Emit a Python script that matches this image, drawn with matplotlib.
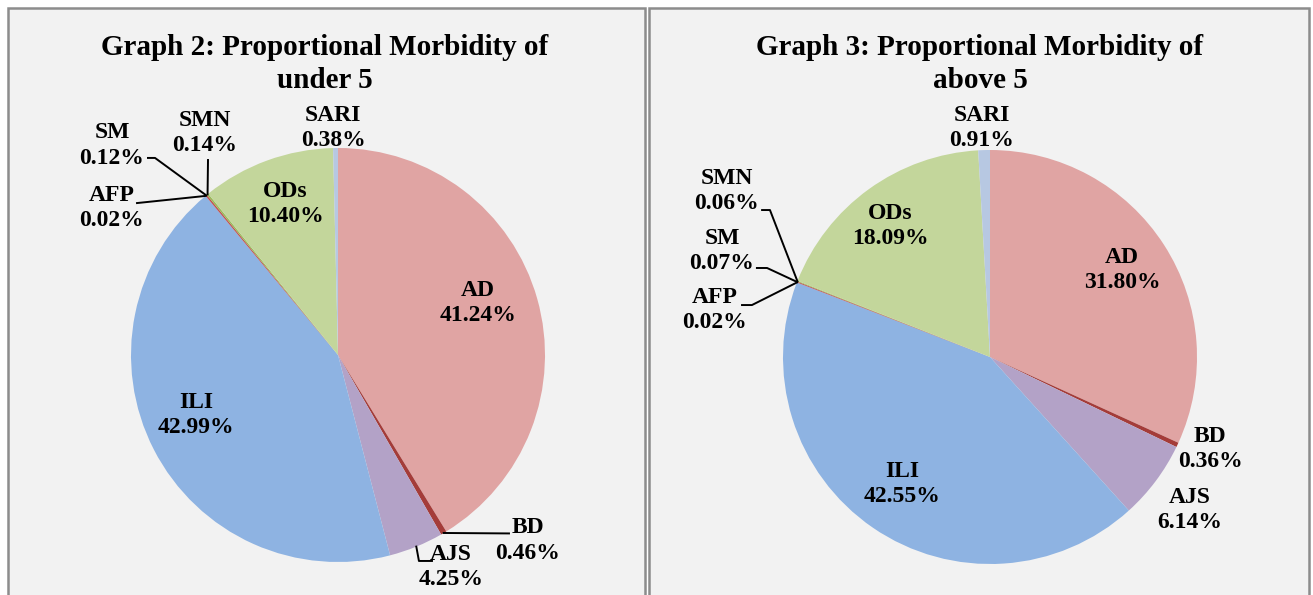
import matplotlib.pyplot as plt
from matplotlib.patches import Rectangle
import numpy as np

# data
diseases = ['AD', 'BD', 'AJS', 'ILI', 'AFP', 'SM', 'SMN', 'ODs', 'SARI']
under5 = [41.24, 0.46, 4.25, 42.99, 0.02, 0.12, 0.14, 10.40, 0.38]
above5 = [31.80, 0.36, 6.14, 42.55, 0.02, 0.07, 0.06, 18.09, 0.91]
titles = ['Graph 2: Proportional Morbidity of\nunder 5',
          'Graph 3: Proportional Morbidity of\nabove 5']

colors = ['#e0a4a3', '#a43c39', '#b3a2c7', '#8eb3e2', '#7f63a1',
          '#c0504d', '#9bbb59', '#c3d69b', '#b7c8e2']

# label placement (in pie radii, relative to centre)
lab_pos_1 = {'AD': (0.676, 0.251), 'BD': (0.918, -0.895), 'AJS': (0.546, -1.024),
             'ILI': (-0.686, -0.290), 'AFP': (-1.092, 0.710), 'SM': (-1.092, 1.014),
             'SMN': (-0.643, 1.072), 'ODs': (-0.256, 0.729), 'SARI': (-0.024, 1.097)}
lab_pos_2 = {'AD': (0.638, 0.420), 'BD': (1.063, -0.444), 'AJS': (0.966, -0.739),
             'ILI': (-0.425, -0.614), 'AFP': (-1.329, 0.227), 'SM': (-1.295, 0.512),
             'SMN': (-1.271, 0.802), 'ODs': (-0.483, 0.633), 'SARI': (-0.039, 1.106)}
# leader lines: points from the label towards the slice edge
leaders_1 = {'SMN': [(-0.628, 0.942)],
             'SM': [(-0.918, 0.952), (-0.884, 0.952)],
             'AFP': [(-0.971, 0.734)],
             'BD': [(0.826, -0.862)],
             'AJS': [(0.454, -0.995), (0.391, -0.995)]}
leaders_2 = {'SMN': [(-1.101, 0.710), (-1.063, 0.710)],
             'SM': [(-1.126, 0.430), (-1.077, 0.430)],
             'AFP': [(-1.198, 0.251), (-1.150, 0.251)]}

W, H = 1313, 595
fig = plt.figure(figsize=(W / 100, H / 100), dpi=100)
fig.patch.set_facecolor('white')
ax = fig.add_axes([0, 0, 1, 1])

font = dict(family='Liberation Serif', weight='bold')

panels = [(8, 645), (649, 1309)]
centres = [(338, H - 355), (990, H - 357)]
R = 207
title_x = [325, 980]

for i, vals in enumerate([under5, above5]):
    x0, x1 = panels[i]
    ax.add_patch(Rectangle((x0, -10), x1 - x0, H + 2, facecolor='#f2f2f2',
                           edgecolor='#8c8c8c', linewidth=1.8, zorder=0))
    ax.text(title_x[i], H - 64, titles[i], ha='center', va='center',
            fontsize=21, linespacing=1.32, **font)
    cx, cy = centres[i]
    wedges, _ = ax.pie(vals, colors=colors, startangle=90, counterclock=False,
                       center=(cx, cy), radius=R, frame=True,
                       wedgeprops=dict(linewidth=0))
    pos = [lab_pos_1, lab_pos_2][i]
    lead = [leaders_1, leaders_2][i]
    for name, v, w in zip(diseases, vals, wedges):
        lx, ly = pos[name]
        ax.text(cx + lx * R, cy + ly * R, f'{name}\n{v:.2f}%', ha='center',
                va='center', fontsize=17, linespacing=1.3, **font)
        if name in lead:
            ang = np.deg2rad((w.theta1 + w.theta2) / 2)
            pts = lead[name] + [(np.cos(ang), np.sin(ang))]
            xs = [cx + p[0] * R for p in pts]
            ys = [cy + p[1] * R for p in pts]
            ax.plot(xs, ys, color='black', linewidth=1.4, zorder=5)

ax.set_xlim(0, W)
ax.set_ylim(0, H)
ax.set_aspect('auto')
ax.axis('off')

fig.savefig('out.png', dpi=100)
